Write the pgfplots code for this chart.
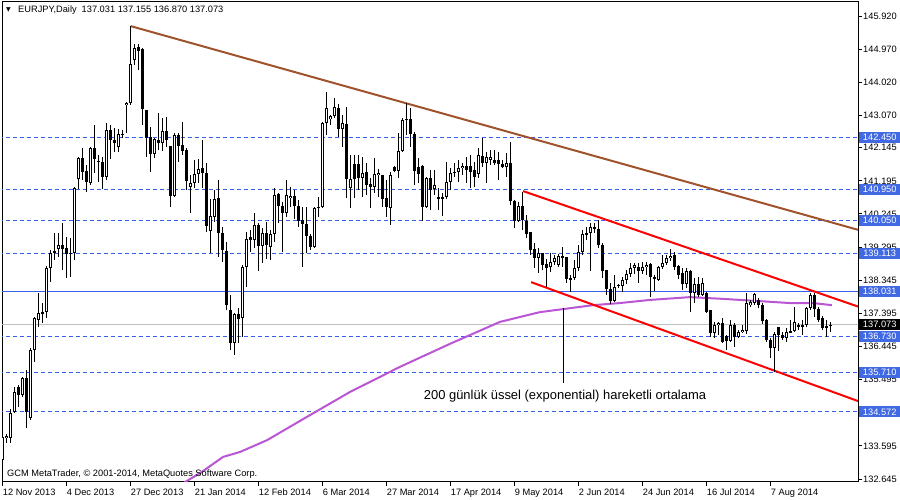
\documentclass[border=0pt]{standalone}
\usepackage{pgfplots}
\pgfplotsset{compat=1.18}
\usepackage{pgfplotstable}
\usepackage{fontspec}
\setmainfont{Liberation Sans}
\newfontfamily\dejavu{DejaVu Sans}
\definecolor{mtblue}{RGB}{55,95,235}
\definecolor{boxblue}{RGB}{65,105,225}
\definecolor{curgray}{RGB}{192,192,192}
\definecolor{tlbrown}{RGB}{160,82,45}
\definecolor{emapurple}{RGB}{186,85,211}

\pgfplotstableread{
i o h l c
0 133.19 133.99 132.93 133.85
1 133.82 133.94 133.68 133.88
2 133.82 134.65 133.68 134.54
3 134.57 135.28 134.54 135.14
4 135.28 135.34 134.71 135.05
5 135.05 135.57 134.99 135.54
6 135.54 135.77 134.11 134.57
7 134.40 136.40 134.34 136.34
8 136.34 137.29 136.00 137.26
9 137.21 137.98 137.00 137.41
10 137.43 137.69 137.12 137.38
11 137.43 138.75 137.26 138.70
12 138.70 139.21 138.29 139.13
13 139.15 139.70 138.93 139.18
14 139.24 139.70 139.01 139.35
15 139.35 139.99 138.64 139.24
16 139.27 139.58 138.41 139.10
17 139.13 139.56 138.44 139.10
18 139.13 141.02 138.93 140.99
19 141.25 141.88 140.96 141.85
20 141.85 142.14 141.22 141.45
21 141.48 141.65 140.87 141.16
22 141.13 142.17 141.08 142.14
23 142.14 142.80 141.42 141.82
24 141.76 141.94 141.16 141.74
25 141.74 141.88 140.96 141.30
26 141.30 142.85 141.22 142.65
27 142.65 142.80 141.82 142.37
28 142.37 142.71 142.02 142.28
29 142.16 142.68 142.02 142.54
30 142.51 142.65 142.42 142.54
31 143.37 143.46 142.57 143.43
32 143.43 145.63 143.37 144.54
33 144.66 145.12 144.52 145.00
34 145.03 145.12 144.37 144.92
35 144.97 145.00 142.80 143.25
36 143.23 143.23 141.88 142.42
37 142.45 142.74 141.45 141.96
38 141.96 142.42 141.85 142.39
39 142.37 143.14 142.08 142.28
40 142.28 143.00 142.05 142.62
41 142.62 143.02 142.16 142.37
42 142.19 142.19 140.44 140.76
43 140.76 142.57 140.73 142.51
44 142.51 142.57 141.73 142.19
45 142.22 142.88 141.94 142.05
46 142.08 142.14 140.93 141.19
47 141.02 141.36 140.27 141.13
48 141.13 141.79 140.99 141.39
49 141.39 141.82 141.13 141.53
50 141.56 142.37 140.99 141.42
51 141.42 141.71 139.73 139.90
52 139.76 140.67 139.13 140.19
53 140.16 140.93 140.01 140.67
54 140.70 141.22 139.01 139.70
55 139.70 139.87 138.87 139.21
56 139.18 139.44 137.49 137.63
57 137.49 137.92 136.34 136.55
58 136.55 137.41 136.20 137.38
59 137.38 137.55 136.55 137.23
60 137.26 138.78 136.72 138.72
61 138.72 139.73 138.15 139.53
62 139.58 139.79 139.15 139.50
63 139.50 140.27 139.27 139.93
64 139.93 139.99 138.61 139.33
65 139.33 139.84 138.84 139.70
66 139.70 140.01 138.95 139.35
67 139.30 139.79 138.93 139.67
68 139.67 140.99 139.44 140.79
69 140.82 140.85 139.99 140.47
70 140.47 140.59 139.15 140.27
71 140.27 141.22 140.16 140.79
72 140.70 141.02 140.44 140.76
73 140.76 140.93 140.10 140.47
74 140.47 140.65 139.87 140.04
75 140.07 140.44 138.72 139.96
76 139.96 140.44 139.13 139.61
77 139.61 139.67 139.21 139.30
78 139.30 140.44 139.27 140.42
79 140.42 140.73 140.16 140.44
80 140.44 142.88 140.42 142.85
81 142.85 143.74 142.51 143.28
82 142.97 143.08 142.80 143.05
83 143.05 143.57 143.00 143.31
84 143.28 143.40 142.45 142.68
85 142.68 143.08 142.16 142.85
86 142.82 143.31 140.70 141.25
87 140.99 141.94 140.42 141.25
88 141.68 141.94 140.70 141.25
89 141.68 141.94 140.93 141.28
90 141.28 141.88 140.73 141.42
91 141.45 141.71 140.79 141.08
92 141.10 141.28 140.42 141.02
93 141.02 141.85 140.85 141.39
94 141.36 141.53 140.73 141.42
95 141.36 141.36 140.44 140.67
96 140.70 141.22 140.16 140.44
97 140.42 141.45 139.93 141.36
98 141.59 141.62 141.45 141.48
99 141.48 142.57 141.28 142.05
100 142.05 143.00 142.02 142.94
101 142.94 143.43 142.51 142.97
102 142.97 143.28 142.16 142.54
103 142.54 142.59 141.08 141.48
104 141.59 141.85 141.13 141.39
105 141.62 141.65 140.04 140.44
106 140.44 141.30 140.42 141.28
107 141.28 141.51 140.36 140.93
108 140.96 141.51 140.79 141.08
109 140.73 140.99 140.36 140.67
110 140.70 140.85 140.19 140.73
111 140.73 141.73 140.67 141.16
112 141.16 141.56 140.93 141.42
113 141.42 141.71 141.30 141.45
114 141.45 141.79 141.16 141.56
115 141.56 141.71 141.36 141.62
116 141.62 141.88 141.13 141.51
117 141.62 141.94 140.99 141.45
118 141.51 141.73 141.02 141.30
119 141.39 142.14 141.28 141.94
120 141.91 142.42 141.59 141.71
121 141.71 142.02 141.13 141.88
122 141.79 142.08 141.65 141.88
123 141.79 142.08 141.65 141.71
124 141.79 142.02 141.22 141.68
125 141.68 141.79 141.56 141.59
126 141.59 141.99 141.30 141.71
127 141.71 142.31 140.50 140.62
128 140.62 140.65 139.84 140.04
129 140.04 140.59 140.01 140.47
130 140.47 140.87 139.79 140.07
131 140.04 140.22 139.56 139.67
132 139.73 139.73 139.07 139.21
133 139.24 139.41 138.70 138.98
134 138.98 139.27 138.55 139.13
135 139.13 139.13 138.64 138.78
136 138.81 138.95 138.15 138.70
137 138.72 139.13 138.58 138.87
138 138.87 139.07 138.78 138.98
139 138.78 139.10 138.72 139.04
140 139.04 139.30 138.72 138.98
141 139.01 139.01 138.26 138.38
142 138.41 138.49 138.01 138.38
143 138.41 138.93 138.35 138.70
144 138.70 139.35 138.61 139.15
145 139.15 139.79 139.07 139.67
146 139.67 139.87 139.50 139.70
147 139.70 139.99 138.61 139.87
148 139.87 139.99 139.70 139.81
149 139.81 140.07 139.27 139.35
150 139.35 139.41 138.41 138.61
151 138.64 138.64 137.92 138.09
152 138.09 138.26 137.66 137.75
153 137.75 138.49 137.72 138.15
154 138.18 138.24 138.12 138.21
155 138.18 138.44 138.01 138.35
156 138.35 138.64 138.24 138.52
157 138.52 138.84 138.44 138.70
158 138.70 138.84 138.52 138.78
159 138.72 138.84 138.26 138.61
160 138.61 138.87 138.52 138.72
161 138.72 138.87 138.49 138.78
162 138.81 138.84 137.86 138.44
163 138.44 138.49 138.04 138.38
164 138.35 138.75 138.32 138.72
165 138.72 139.07 138.67 138.84
166 138.84 139.07 138.78 138.98
167 138.98 139.24 138.90 139.04
168 139.07 139.15 138.64 138.72
169 138.75 138.78 138.38 138.49
170 138.55 138.70 138.07 138.24
171 138.24 138.70 138.12 138.61
172 138.61 138.64 137.43 137.98
173 137.98 138.41 137.69 138.24
174 138.24 138.44 137.86 137.92
175 137.92 138.41 137.89 138.27
176 137.98 138.01 137.41 137.43
177 137.49 137.49 136.72 136.83
178 136.83 137.15 136.69 137.06
179 137.06 137.15 136.77 137.12
180 137.12 137.26 136.55 136.57
181 136.75 136.77 136.34 136.60
182 136.60 137.21 136.57 137.06
183 137.06 137.12 136.43 136.72
184 136.72 136.92 136.69 136.86
185 136.86 137.06 136.83 136.92
186 136.89 137.98 136.80 137.69
187 137.63 137.78 137.58 137.72
188 137.69 137.98 137.63 137.95
189 137.78 137.84 137.55 137.63
190 137.63 137.69 137.09 137.18
191 137.21 137.23 136.57 136.63
192 136.63 136.69 136.12 136.40
193 136.40 136.86 135.71 136.80
194 137.00 137.00 136.32 136.77
195 136.77 136.86 136.63 136.69
196 136.69 136.98 136.57 136.86
197 136.86 137.21 136.83 136.89
198 136.89 137.58 136.86 137.15
199 137.06 137.12 136.92 137.00
200 137.03 137.21 136.77 137.06
201 137.06 137.58 137.00 137.55
202 137.55 137.98 137.49 137.92
203 137.92 137.98 137.29 137.52
204 137.52 137.58 137.15 137.21
205 137.26 137.32 136.92 136.98
206 137.03 137.21 136.72 136.98
207 137.031 137.155 136.870 137.073
}\candles

\pgfplotstableread{
i p
43.5 132.40
45.6 132.56
49.4 132.82
55.1 133.28
59.3 133.42
66.1 133.76
74.3 134.31
86.8 135.14
99.3 135.86
111.8 136.52
124.3 137.15
134.3 137.43
147.6 137.63
154.3 137.69
161.8 137.78
171.8 137.86
180.1 137.81
188.6 137.75
196.8 137.69
202.6 137.69
207.3 137.63
}\ema

\begin{document}
\begin{tikzpicture}[x=1bp,y=1bp]
\path[use as bounding box] (0,0) rectangle (900,500);
\begin{axis}[
  at={(2bp,18bp)}, anchor=south west,
  scale only axis, width=856bp, height=480bp,
  xmin=-0.175, xmax=213.825, ymin=132.56, ymax=146.322,
  axis line style={black, line width=1bp},
  clip=true,
  tick align=outside,
  major tick length=4bp,
  tick style={black, line width=1bp},
  xtick={0,16,32,48,64,80,96,112,128,144,160,176,192},
  xticklabels={12 Nov 2013,4 Dec 2013,27 Dec 2013,21 Jan 2014,12 Feb 2014,6 Mar 2014,27 Mar 2014,17 Apr 2014,9 May 2014,2 Jun 2014,24 Jun 2014,16 Jul 2014,7 Aug 2014},
  xtick pos=lower,
  x tick label style={anchor=north west, inner sep=0pt, xshift=0bp, yshift=-2.5bp, font=\fontsize{9.3}{10}\selectfont},
  ytick={132.645,133.595,134.545,135.495,136.445,137.395,138.345,139.295,140.245,141.195,142.145,143.070,144.020,144.970,145.920},
  yticklabels={132.645,133.595,134.545,135.495,136.445,137.395,138.345,139.295,140.245,141.195,142.145,143.070,144.020,144.970,145.920},
  ytick pos=right, yticklabel pos=right,
  y tick label style={anchor=west, inner sep=0pt, xshift=1bp, font=\fontsize{9.3}{10}\selectfont},
  after end axis/.code={
    \foreach \p/\t in {142.450/142.450,140.950/140.950,140.050/140.050,139.113/139.113,138.031/138.031,136.730/136.730,135.710/135.710,134.572/134.572}{
      \node[fill=boxblue, text=white, inner sep=0pt, minimum width=41bp, minimum height=11bp, anchor=west, font=\fontsize{9.3}{10}\selectfont] at ([xshift=1bp]axis cs:213.825,\p) {\t};
    }
    \node[fill=black, text=white, inner sep=0pt, minimum width=41bp, minimum height=11bp, anchor=west, font=\fontsize{9.3}{10}\selectfont] at ([xshift=1bp]axis cs:213.825,137.073) {137.073};
  },
]
% horizontal levels
\addplot[curgray, line width=1bp] coordinates {(-1,137.073) (215,137.073)};
\foreach \lv in {142.450,140.950,140.050,139.113,136.730,135.710,134.572}{
  \addplot[mtblue, line width=1bp, dash pattern=on 4bp off 3bp] coordinates {(-1,\lv) (215,\lv)};
}
\addplot[mtblue, line width=1bp] coordinates {(-1,138.031) (215,138.031)};
% EMA 200
\addplot[emapurple, line width=2bp] table[x=i, y=p] {\ema};
% trend lines
\addplot[tlbrown, line width=2bp] coordinates {(32,145.63) (213.825,139.79)};
\addplot[red, line width=2bp] coordinates {(130.1,140.90) (213.825,137.59)};
\addplot[red, line width=2bp] coordinates {(132.1,138.29) (213.825,134.88)};
% annotation pointer
\addplot[black, line width=1bp] coordinates {(140.08,137.55) (140.08,135.40)};
% candle wicks
\addplot[draw=none, mark=none, error bars/.cd, y dir=both, y explicit, error mark=none,
  error bar style={draw=black, line width=1bp, solid}]
  table[x=i, y expr={(\thisrow{h}+\thisrow{l})/2}, y error expr={(\thisrow{h}-\thisrow{l})/2}] {\candles};
% candle bodies
\addplot[draw=none, mark=none, error bars/.cd, y dir=both, y explicit, error mark=none,
  error bar style={draw=black, line width=3bp, solid}]
  table[x=i, y expr={(\thisrow{o}+\thisrow{c})/2}, y error expr={max(abs(\thisrow{c}-\thisrow{o})/2,0.0143)}] {\candles};
% hollow interior of rising candles
\addplot[draw=none, mark=none, error bars/.cd, y dir=both, y explicit, error mark=none,
  error bar style={draw=white, line width=1bp, solid}]
  table[x=i, y expr={(\thisrow{o}+\thisrow{c})/2}, y error expr={(\thisrow{c}>\thisrow{o}) ? max((\thisrow{c}-\thisrow{o})/2-0.0287,0) : 0}] {\candles};
\end{axis}
% texts
\node[anchor=west, inner sep=0pt, font=\dejavu\fontsize{6}{7}\selectfont] at (6,490) {▼};
\node[anchor=west, inner sep=0pt, font=\fontsize{9.3}{10}\selectfont] at (18,490) {EURJPY,Daily\hspace{5bp}137.031 137.155 136.870 137.073};
\node[anchor=west, inner sep=0pt, font=\fontsize{9.3}{10}\selectfont] at (7,26) {GCM MetaTrader, © 2001-2014, MetaQuotes Software Corp.};
\node[inner sep=0pt, font=\fontsize{13}{15}\selectfont] at (565,104) {200 günlük üssel (exponential) hareketli ortalama};
\end{tikzpicture}
\end{document}
